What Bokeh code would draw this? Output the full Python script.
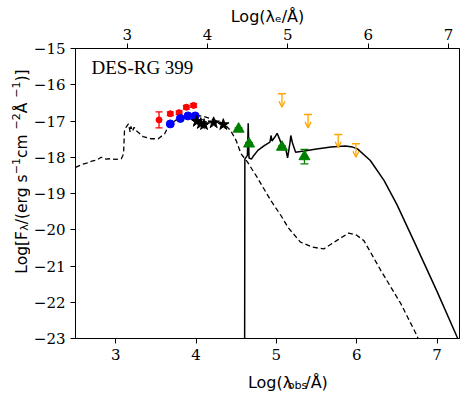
import numpy as np
from bokeh.plotting import figure
from bokeh.layouts import row, column
from bokeh.models import (Range1d, LinearAxis, FixedTicker, Label, ColumnDataSource,
                          Whisker, TeeHead, Arrow, OpenHead)
from bokeh.embed import file_html
from bokeh.resources import INLINE

# ---------------- data ----------------
z_shift = 0.143            # log10(1+z): offset between observed and rest-frame axes
x_min, x_max = 2.5, 7.28
y_min, y_max = -23.0, -15.0
x_ticks = [3, 4, 5, 6, 7]
y_ticks = [-15, -16, -17, -18, -19, -20, -21, -22, -23]
y_tick_labels = ["\u221215", "\u221216", "\u221217", "\u221218", "\u221219",
                 "\u221220", "\u221221", "\u221222", "\u221223"]
source_name = "DES-RG 399"
top_label = "Log(\u03bb\u2091/\u00c5)"

red_x = [3.54, 3.68, 3.79, 3.88, 3.97]
red_y = [-16.97, -16.80, -16.77, -16.62, -16.57]
red_err = [0.22, 0.05, 0.05, 0.05, 0.05]

blue_x = [3.68, 3.805, 3.90, 3.99]
blue_y = [-17.08, -16.93, -16.86, -16.86]

star_x = [4.01, 4.06, 4.10, 4.22, 4.34]
star_y = [-17.01, -17.07, -17.10, -17.05, -17.10]

green_x = [4.53, 4.66, 5.07, 5.35]
green_y = [-17.22, -17.63, -17.72, -17.98]
green_err = [0.03, 0.03, 0.03, 0.20]

orange_x = [5.07, 5.395, 5.77, 5.99]
orange_y = [-16.25, -16.82, -17.37, -17.63]

dash_x = [2.50, 2.58, 2.64, 2.70, 2.76, 2.82, 2.88, 2.94, 3.00, 3.07, 3.09, 3.10, 3.11,
          3.13, 3.16, 3.18, 3.19, 3.21, 3.23, 3.25, 3.28, 3.34, 3.44, 3.53, 3.61, 3.65,
          3.74, 3.81, 3.90, 3.98, 4.10, 4.23, 4.35, 4.43, 4.50, 4.56, 4.64, 4.76, 4.93,
          5.055, 5.15, 5.30, 5.45, 5.59, 5.75, 5.90, 6.00, 6.09, 6.30, 6.55, 6.75, 6.80]
dash_y = [-18.28, -18.20, -18.16, -18.11, -18.08, -18.00, -18.05, -18.04, -18.06, -18.04,
          -17.95, -17.81, -17.26, -17.17, -17.08, -17.30, -17.15, -17.28, -17.17, -17.26,
          -17.31, -17.43, -17.49, -17.49, -17.35, -17.17, -16.99, -16.90, -16.86, -16.83,
          -16.88, -16.97, -17.08, -17.26, -17.54, -17.90, -18.13, -18.55, -19.19,
          -19.60, -19.95, -20.34, -20.48, -20.53, -20.30, -20.09, -20.15, -20.30, -21.12,
          -22.04, -22.92, -23.20]

solid_x = [4.605, 4.608, 4.64, 4.65, 4.66, 4.69, 4.72, 4.77, 4.85, 4.92, 4.935, 4.945,
           4.98, 5.01, 5.04, 5.07, 5.12, 5.14, 5.17, 5.18, 5.20, 5.24, 5.30, 5.35, 5.50,
           5.68, 5.86, 5.95, 6.01, 6.17, 6.34, 6.50, 6.71, 7.00, 7.25, 7.30]
solid_y = [-24.0, -18.05, -17.95, -17.06, -18.02, -18.05, -17.95, -17.81, -17.68, -17.58,
           -17.40, -17.55, -17.45, -17.34, -17.50, -17.68, -17.80, -18.02, -17.60, -17.40,
           -17.60, -17.86, -17.84, -17.83, -17.77, -17.72, -17.69, -17.72, -17.77, -18.09,
           -18.64, -19.30, -20.30, -21.70, -22.96, -23.20]

# ---------------- layout sizes ----------------
LEFT_W, MAIN_W, MAIN_H, BOT_H = 30, 431, 366, 28

# ---------------- main figure ----------------
p = figure(width=MAIN_W, height=MAIN_H, output_backend="svg", toolbar_location=None,
           x_range=Range1d(x_min, x_max), y_range=Range1d(y_min, y_max),
           min_border_left=45, min_border_right=2, min_border_top=48, min_border_bottom=28,
           title=None)
p.extra_x_ranges = {"top": Range1d(x_min - z_shift, x_max - z_shift)}
p.xgrid.visible = False
p.ygrid.visible = False
p.outline_line_color = "black"
p.outline_line_width = 1

top_axis = LinearAxis(x_range_name="top")
p.add_layout(top_axis, "above")
bottom_axis = p.below[0]
left_axis = p.left[0]

TICK_FONT = "DejaVu Serif"
for ax in [bottom_axis, left_axis, top_axis]:
    ax.major_tick_in = 0
    ax.major_tick_out = 5
    ax.minor_tick_line_color = None
    ax.major_tick_line_color = "black"
    ax.axis_line_color = "black"
    ax.major_label_text_font = TICK_FONT
    ax.major_label_text_font_size = "15px"
    ax.major_label_text_color = "black"
    ax.major_label_standoff = 5

bottom_axis.ticker = FixedTicker(ticks=x_ticks)
top_axis.ticker = FixedTicker(ticks=x_ticks)
left_axis.ticker = FixedTicker(ticks=y_ticks)
left_axis.major_label_overrides = {t: s for t, s in zip(y_ticks, y_tick_labels)}
top_axis.major_label_standoff = 4
top_axis.axis_label = top_label
top_axis.axis_label_text_font = "DejaVu Sans"
top_axis.axis_label_text_font_size = "16px"
top_axis.axis_label_text_font_style = "normal"
top_axis.axis_label_text_color = "black"
top_axis.axis_label_standoff = 0

# ---------------- model curves ----------------
p.line(dash_x, dash_y, line_color="black", line_width=1.3, line_dash="5 3")
p.line(solid_x, solid_y, line_color="black", line_width=1.5)

# ---------------- photometry ----------------
def err_source(xs, ys, es):
    return ColumnDataSource(dict(x=xs, y=ys,
                                 lo=[y - e for y, e in zip(ys, es)],
                                 hi=[y + e for y, e in zip(ys, es)]))

rsrc = err_source(red_x, red_y, red_err)
p.add_layout(Whisker(source=rsrc, base="x", upper="hi", lower="lo", dimension="height",
                     line_color="red", line_width=1.3,
                     upper_head=TeeHead(size=7, line_color="red", line_width=1.3),
                     lower_head=TeeHead(size=7, line_color="red", line_width=1.3)))
p.scatter("x", "y", source=rsrc, size=6, color="red", marker="circle")

p.scatter(blue_x, blue_y, size=8, color="blue", marker="circle")
p.scatter(star_x, star_y, size=12, color="black", marker="star")

gsrc = err_source(green_x, green_y, green_err)
p.add_layout(Whisker(source=gsrc, base="x", upper="hi", lower="lo", dimension="height",
                     line_color="green", line_width=1.3,
                     upper_head=TeeHead(size=8, line_color="green", line_width=1.3),
                     lower_head=TeeHead(size=8, line_color="green", line_width=1.3)))
p.scatter("x", "y", source=gsrc, size=11, color="green", marker="triangle")

arrow_len = 0.37
osrc = ColumnDataSource(dict(x=orange_x, y=orange_y,
                             y_end=[y - arrow_len for y in orange_y]))
p.add_layout(Arrow(source=osrc, x_start="x", y_start="y", x_end="x", y_end="y_end",
                   line_color="orange", line_width=1.3,
                   end=OpenHead(size=6, line_color="orange", line_width=1.3)))
p.scatter("x", "y", source=osrc, size=8, marker="dash", line_color="orange",
          line_width=1.5)

p.add_layout(Label(x=x_min, y=y_max, x_offset=16, y_offset=-19, text=source_name,
                   text_font="Liberation Serif", text_font_size="19px",
                   text_color="black", text_baseline="alphabetic", text_align="left"))

# ---------------- axis titles with sub/superscripts (own small canvases) ----------------
W = {"L": 0.557, "o": 0.612, "g": 0.635, "(": 0.390, ")": 0.390, "[": 0.390, "]": 0.390,
     "\u03bb": 0.592, "/": 0.337, "\u00c5": 0.684, "b": 0.635, "s": 0.521, "e": 0.615,
     "F": 0.575, "r": 0.411, "c": 0.550, "m": 0.974, " ": 0.318, "\u2212": 0.838,
     "1": 0.636, "2": 0.636}

def tw(s, size):
    return sum(W[c] for c in s) * size

LAB_FONT = "DejaVu Sans"

def blank_fig(w, h):
    f = figure(width=w, height=h, output_backend="svg", toolbar_location=None,
               x_range=Range1d(0, w), y_range=Range1d(0, h), min_border=0,
               x_axis_type=None, y_axis_type=None, title=None)
    f.xgrid.visible = False
    f.ygrid.visible = False
    f.outline_line_color = None
    return f

bot = blank_fig(MAIN_W, BOT_H)
pieces_bottom = [("Log(\u03bb", 16, 0), ("obs", 11.2, -3), ("/\u00c5)", 16, 0)]
xc = 45 + (MAIN_W - 47) / 2
total = sum(tw(t, s) for t, s, _ in pieces_bottom)
pos = xc - total / 2
for t, s, shift in pieces_bottom:
    bot.add_layout(Label(x=pos, y=12 + shift, text=t, text_font=LAB_FONT,
                         text_font_size=f"{s}px", text_color="black",
                         text_align="left", text_baseline="alphabetic"))
    pos += tw(t, s)

lef = blank_fig(LEFT_W, MAIN_H + BOT_H)
pieces_left = [("Log[F", 15.5, 0), ("\u03bb", 11, -3), ("/(erg s", 15.5, 0),
               ("\u22121", 11, 6), (" cm", 15.5, 0), ("\u22122", 11, 6),
               (" \u00c5", 15.5, 0), ("\u22121", 11, 6), (")]", 15.5, 0)]
total = sum(tw(t, s) for t, s, _ in pieces_left)
pos = (MAIN_H + BOT_H - 171) - total / 2
for t, s, shift in pieces_left:
    lef.add_layout(Label(x=21 - shift, y=pos, text=t, angle=np.pi / 2,
                         text_font=LAB_FONT, text_font_size=f"{s}px", text_color="black",
                         text_align="left", text_baseline="alphabetic"))
    pos += tw(t, s)

layout = row(lef, column(p, bot, spacing=0), spacing=0)
open("out.html", "w").write(file_html(layout, INLINE))
